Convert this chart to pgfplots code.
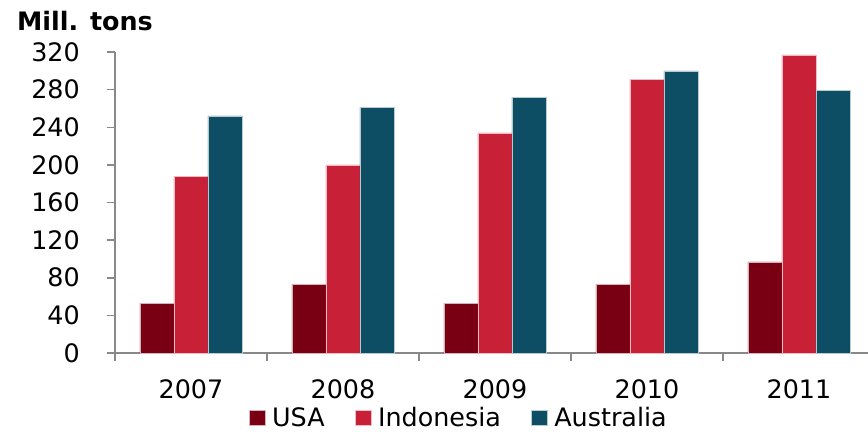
\documentclass[border=0pt]{standalone}
\usepackage{fontspec}
\setmainfont{DejaVu Sans}
\usepackage{pgfplots}
\pgfplotsset{compat=1.18}
\definecolor{usa}{RGB}{120,0,18}
\definecolor{indo}{RGB}{200,33,55}
\definecolor{aus}{RGB}{14,78,100}
\definecolor{axisgray}{RGB}{137,137,137}
\newcommand{\fs}{\fontsize{25.5}{30}\selectfont}
\begin{document}
\begin{tikzpicture}
\begin{axis}[
  scale only axis,
  width=753bp, height=301bp,
  xmin=-0.5, xmax=4.454,
  ymin=0, ymax=320,
  clip mode=individual,
  ytick={0,40,...,320},
  xtick={0,1,2,3,4},
  xticklabels={2007,2008,2009,2010,2011},
  minor xtick={-0.5,0.5,1.5,2.5,3.5},
  axis x line*=bottom,
  axis y line*=left,
  axis line style={draw=axisgray, line width=1.5bp, -},
  tick align=outside,
  major tick length=8bp,
  minor tick length=8bp,
  every major x tick/.append style={draw=none},
  every minor x tick/.append style={draw=axisgray, line width=1.5bp},
  every major y tick/.append style={draw=axisgray, line width=1.5bp},
  /pgf/number format/assume math mode=true,
  tick label style={font=\fs, text=black},
  yticklabel style={inner sep=0pt, xshift=-27bp},
  xticklabel style={inner sep=0pt, yshift=-18bp},
  ybar=0pt, bar width=34bp,
  legend columns=3,
  legend style={draw=none, fill=none, inner sep=0pt, font=\fs,
    at={(rel axis cs:0.178,0)}, anchor=west, yshift=-65bp,
    nodes={inner sep=0pt},
    /tikz/every odd column/.append style={column sep=6.5bp},
    /tikz/every even column/.append style={column sep=30.5bp}},
  legend image code/.code={\fill[#1] (0bp,-7.5bp) rectangle (16bp,8bp);},
]
\addplot[fill=usa, draw=white!70!usa, line width=0.4bp] coordinates {(0,53) (1,73) (2,53) (3,73) (4,97)};
\addplot[fill=indo, draw=white!70!indo, line width=0.4bp] coordinates {(0,188) (1,200) (2,234) (3,291) (4,317)};
\addplot[fill=aus, draw=white!70!aus, line width=0.4bp] coordinates {(0,252) (1,261) (2,272) (3,300) (4,279)};
\legend{USA,Indonesia,Australia}
\node[anchor=base west, inner sep=0pt, font=\fs\bfseries, xshift=-98bp, yshift=22bp] at (rel axis cs:0,1) {Mill. tons};
\end{axis}
\pgfresetboundingbox
\path[use as bounding box] ([xshift=-115bp,yshift=-79bp]current axis.south west) rectangle ++(868bp,432bp);
\end{tikzpicture}
\end{document}
